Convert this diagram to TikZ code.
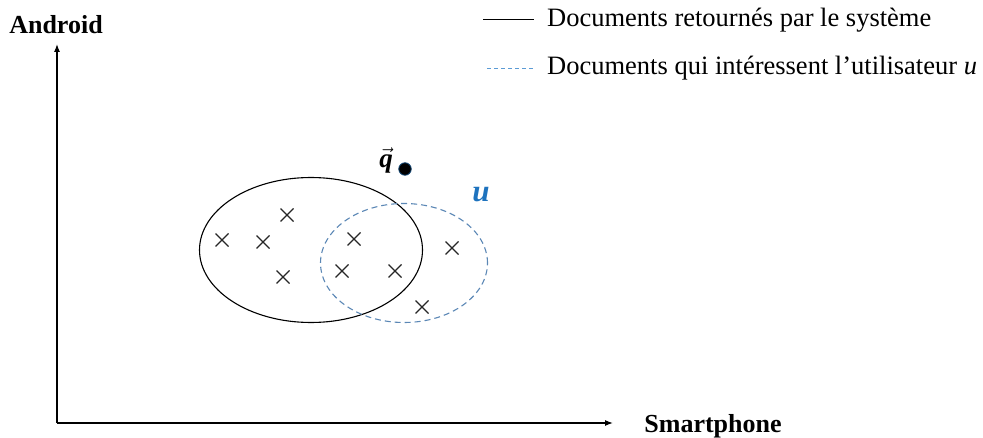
\documentclass[tikz,border=0pt]{standalone}
\usepackage{fontspec}
\setmainfont{Liberation Serif}
\usepackage{amsmath}
\usetikzlibrary{arrows.meta,shapes.geometric}
\definecolor{ublue}{HTML}{1E73BE}
\definecolor{legblue}{HTML}{5B9BD5}
\definecolor{ellblue}{HTML}{5B87B5}
\tikzset{
  axis/.style={line width=1.2pt, -{Latex[length=8pt,width=6pt]}},
  lbl/.style={font=\fontsize{26}{30}\selectfont\bfseries, inner sep=0pt},
  legtxt/.style={font=\fontsize{26.5}{30}\selectfont, inner sep=0pt, anchor=west},
  cross/.style={line width=1.1pt, black!85},
  setell/.style={ellipse, draw, inner sep=0pt, line width=1.1pt},
}
\begin{document}
\begin{tikzpicture}[x=1pt,y=-1pt]
\useasboundingbox (0,0) rectangle (983,438);
% axes
\coordinate (O) at (57,423);
\coordinate (ytop) at (57,44);
\coordinate (xend) at (613,423);
\draw[axis] (O) -- (ytop);
\draw[axis] (O) -- (xend);
\node[lbl] (android) at (56,25) {Android};
\node[lbl] (smart) at (713,426) {Smartphone};
% legend
\coordinate (l1a) at (483,20);
\coordinate (l1b) at (534,20);
\draw[line width=1pt] (l1a) -- (l1b);
\node[legtxt] (leg1) at (547,20) {Documents retournés par le système};
\coordinate (l2a) at (487,68);
\coordinate (l2b) at (535,68);
\draw[legblue, line width=0.9pt, dash pattern=on 4pt off 3pt] (l2a) -- (l2b);
\node[legtxt] (leg2) at (547,68) {Documents qui intéressent l’utilisateur \textit{u}};
% ellipses
\node[setell, minimum width=223pt, minimum height=145pt] (sys) at (311,250) {};
\node[setell, draw=ellblue, dash pattern=on 6pt off 4pt, minimum width=167pt, minimum height=119pt] (usr) at (404,263) {};
% crosses
\foreach \i/\x/\y in {1/222/240, 2/263/242, 3/287/215, 4/283/277, 5/354/239, 6/342/271, 7/395/271, 8/452/248, 9/422/307}{
  \draw[cross] (\x-6.5,\y-6.5) -- (\x+6.5,\y+6.5) (\x-6.5,\y+6.5) -- (\x+6.5,\y-6.5);
}
% query point
\node[circle, fill=black, draw=ublue!60!black, line width=0.8pt, minimum size=12.5pt, inner sep=0pt] (q) at (405,169) {};
\node[font=\fontsize{27}{30}\selectfont, inner sep=0pt] (qlbl) at (386,161) {$\vec{\textbf{\textit{q}}}$};
\node[font=\fontsize{31}{32}\selectfont\bfseries\itshape, text=ublue, inner sep=0pt] (ulbl) at (481,195) {u};
\end{tikzpicture}
\end{document}
